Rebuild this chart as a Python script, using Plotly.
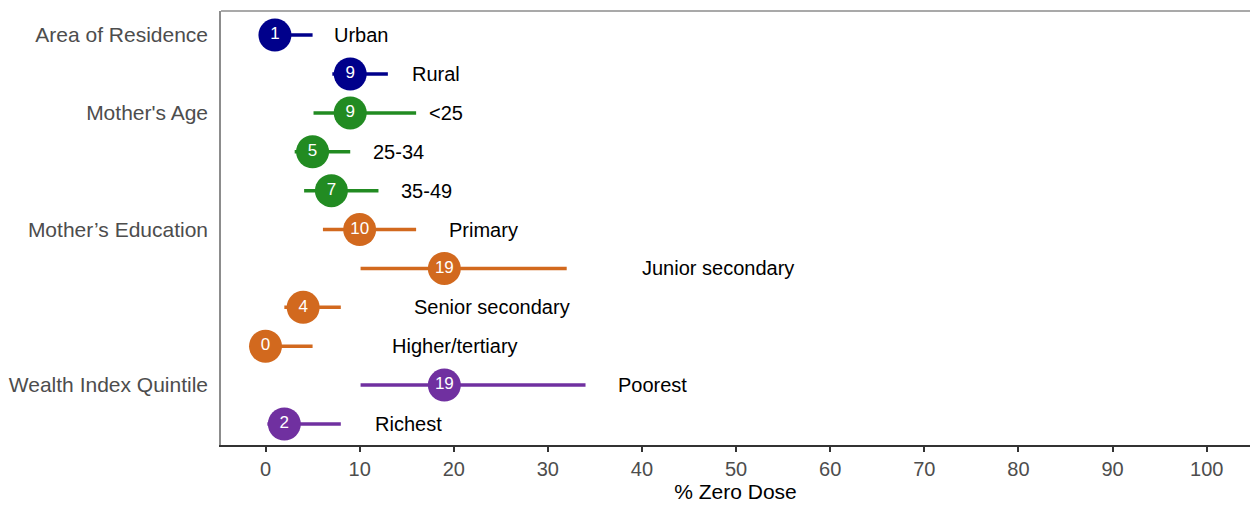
import plotly.graph_objects as go

# ---- data ----
categories = ["Urban", "Rural", "<25", "25-34", "35-49", "Primary",
              "Junior secondary", "Senior secondary", "Higher/tertiary",
              "Poorest", "Richest"]
groups = ["Area of Residence", "Area of Residence", "Mother's Age", "Mother's Age",
          "Mother's Age", "Mother’s Education", "Mother’s Education",
          "Mother’s Education", "Mother’s Education", "Wealth Index Quintile",
          "Wealth Index Quintile"]
estimate = [1, 9, 9, 5, 7, 10, 19, 4, 0, 19, 2]
lower = [0.2, 7.1, 5.1, 3.1, 4.1, 6.1, 10.1, 2.0, 0.0, 10.1, 0.2]
upper = [5.0, 13.0, 16.0, 9.0, 12.0, 16.0, 32.0, 8.0, 5.0, 34.0, 8.0]
label_x = [7.1, 15.4, 17.2, 11.2, 14.2, 19.3, 39.8, 15.6, 13.2, 37.2, 11.4]
x_ticks = [0, 10, 20, 30, 40, 50, 60, 70, 80, 90, 100]

group_colors = {
    "Area of Residence": "#00008B",
    "Mother's Age": "#228B22",
    "Mother’s Education": "#D2691E",
    "Wealth Index Quintile": "#7030A0",
}

FONT = "Liberation Sans, Arial, sans-serif"
rows = list(range(1, len(categories) + 1))

fig = go.Figure()

group_order = list(dict.fromkeys(groups))
for g in group_order:
    idx = [i for i, gg in enumerate(groups) if gg == g]
    lx, ly = [], []
    for i in idx:
        lx += [lower[i], upper[i], None]
        ly += [rows[i], rows[i], None]
    fig.add_trace(go.Scatter(
        x=lx, y=ly, mode="lines",
        line=dict(color=group_colors[g], width=3.5),
        hoverinfo="skip", showlegend=False))
    fig.add_trace(go.Scatter(
        x=[estimate[i] for i in idx], y=[rows[i] for i in idx],
        mode="markers+text",
        marker=dict(size=33, color=group_colors[g], line=dict(width=0)),
        text=[str(estimate[i]) for i in idx],
        textposition="middle center",
        textfont=dict(color="white", size=17, family=FONT),
        showlegend=False, name=g))

# category labels to the right of the intervals
for i, c in enumerate(categories):
    fig.add_annotation(x=label_x[i], y=rows[i], text=c, showarrow=False,
                       xanchor="left", yanchor="middle",
                       font=dict(size=20, color="black", family=FONT))

# group labels on the y axis (first row of each group)
first_rows = [rows[groups.index(g)] for g in group_order]

fig.update_layout(
    width=1250, height=508,
    margin=dict(l=221, r=0, t=11, b=63),
    paper_bgcolor="white", plot_bgcolor="white",
    font=dict(family=FONT),
    xaxis=dict(
        range=[-4.73, 104.6], tickvals=x_ticks,
        ticktext=[str(v) for v in x_ticks],
        ticks="outside", ticklen=5, tickwidth=1.5, tickcolor="#333333",
        tickfont=dict(size=20, color="#4D4D4D", family=FONT),
        showgrid=False, zeroline=False,
        showline=True, linecolor="#333333", linewidth=1.5,
        title=dict(text="% Zero Dose", font=dict(size=21, color="black", family=FONT),
                   standoff=4),
    ),
    yaxis=dict(
        range=[11.54, 0.38], tickvals=first_rows, ticktext=group_order,
        ticks="", showgrid=False, zeroline=False,
        tickfont=dict(size=21, color="#4D4D4D", family=FONT),
        ticklabelstandoff=7,
        showline=True, linecolor="#8C8C8C", linewidth=1.5,
    ),
    shapes=[dict(type="line", xref="paper", yref="paper", x0=0, x1=1, y0=1, y1=1,
                 line=dict(color="#8C8C8C", width=1.5))],
)

fig.write_html("out.html",
               config={"displayModeBar": False},
               post_script="document.body.style.margin='0';document.body.style.overflow='hidden';")
